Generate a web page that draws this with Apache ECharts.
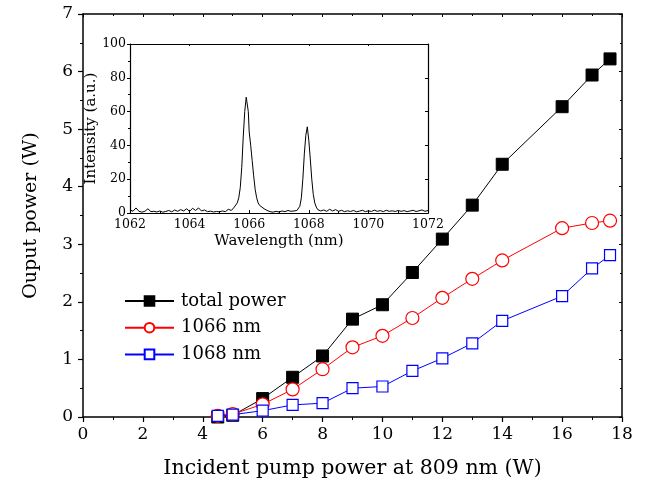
<!DOCTYPE html>
<html>
<head>
<meta charset="utf-8">
<script src="https://cdn.jsdelivr.net/npm/echarts@6/dist/echarts.min.js"></script>
<style>html,body{margin:0;padding:0;background:#fff}#c{width:649px;height:492px}</style>
</head>
<body>
<div id="c"></div>
<script>
// Main chart data
var pump = [4.5, 5, 6, 7, 8, 9, 10, 11, 12, 13, 14, 16, 17, 17.6];
var totalPower = [0, 0.03, 0.32, 0.69, 1.06, 1.70, 1.95, 2.51, 3.09, 3.68, 4.39, 5.39, 5.94, 6.22];
var power1066 = [0.02, 0.05, 0.22, 0.48, 0.83, 1.21, 1.41, 1.72, 2.07, 2.40, 2.72, 3.28, 3.37, 3.41];
var power1068 = [0.02, 0.04, 0.11, 0.21, 0.24, 0.50, 0.53, 0.80, 1.02, 1.28, 1.67, 2.10, 2.58, 2.81];
var seriesNames = ['total power', '1066 nm', '1068 nm'];

// Inset spectrum data
var specWl = [1062.0,1062.1,1062.2,1062.3,1062.4,1062.5,1062.6,1062.7,1062.8,1062.9,
  1063.0,1063.1,1063.2,1063.3,1063.4,1063.5,1063.6,1063.7,1063.8,1063.9,
  1064.0,1064.1,1064.2,1064.3,1064.4,1064.5,1064.6,1064.7,1064.8,1064.9,
  1065.0,1065.1,1065.2,1065.3,1065.4,1065.5,1065.55,1065.6,1065.65,1065.7,1065.75,1065.8,1065.85,1065.9,1065.93,1065.97,
  1066.0,1066.05,1066.1,1066.15,1066.2,1066.25,1066.3,1066.35,1066.4,1066.5,1066.6,1066.7,1066.8,1066.9,
  1067.0,1067.1,1067.2,1067.3,1067.4,1067.5,1067.6,1067.65,1067.7,1067.75,1067.8,1067.85,1067.9,1067.95,1067.98,
  1068.0,1068.05,1068.1,1068.15,1068.2,1068.25,1068.3,1068.4,1068.5,1068.6,1068.7,1068.8,1068.9,
  1069.0,1069.1,1069.2,1069.3,1069.4,1069.5,1069.6,1069.7,1069.8,1069.9,
  1070.0,1070.1,1070.2,1070.3,1070.4,1070.5,1070.6,1070.7,1070.8,1070.9,
  1071.0,1071.1,1071.2,1071.3,1071.4,1071.5,1071.6,1071.7,1071.8,1071.9,1072.0];
var specInt = [2,1,3,1,0.5,1,2.5,0.8,1,0.6,
  1.2,0.5,0.9,1.5,0.7,1.8,1,2,1.2,2.5,
  1,2.8,1.5,3,1.2,1.8,0.8,1.1,0.6,0.9,
  0.7,1.2,0.8,2.2,1.5,3.5,4.5,6,9,15,27,45,60,68.5,68,60,
  48,40,31,22,14,9,6,4.5,3.5,2.5,1.5,0.8,0.5,1,
  0.6,1.2,0.8,1.5,1,1.2,1.5,2.5,4,9,20,35,46,51,50,
  43,32,20,11,6,3.5,2,1.2,1.8,1,2.2,1.2,2,
  1,1.6,0.8,1.3,0.9,1.5,0.7,1.1,1.6,0.8,
  1.3,0.9,1.7,1,1.4,0.8,1.6,1,1.3,0.9,
  1.5,1,1.4,0.8,1.2,1.6,0.9,1.3,1.8,1,1.5];

function pairs(xs, ys) { return xs.map(function (x, i) { return [x, ys[i]]; }); }
function plain(v) { return String(v); }

var FONT = 'DejaVu Serif';
var chart = echarts.init(document.getElementById('c'), null, {renderer: 'canvas'});
var mainLine = {show: true, onZero: false, lineStyle: {color: '#000', width: 1.5}};
var insetLine = {show: true, onZero: false, lineStyle: {color: '#000', width: 1.2}};

chart.setOption({
  animation: false,
  backgroundColor: '#fff',
  textStyle: {fontFamily: FONT, color: '#000'},
  grid: [
    {left: 83, top: 14, width: 539, height: 403},
    {left: 130, top: 44, width: 298, height: 169}
  ],
  legend: {
    orient: 'vertical', left: 124, top: 292, padding: 0, itemWidth: 49, itemHeight: 12, itemGap: 8.7,
    data: seriesNames,
    textStyle: {fontFamily: FONT, fontSize: 18, color: '#000', padding: [0, 0, 0, 2]}
  },
  xAxis: [
    {gridIndex: 0, type: 'value', min: 0, max: 18, interval: 2, position: 'bottom',
     axisLine: mainLine, splitLine: {show: false},
     axisTick: {show: true, inside: false, length: 5, lineStyle: {color: '#000', width: 1.2}},
     minorTick: {show: true, splitNumber: 2, length: 3, lineStyle: {color: '#000', width: 1}},
     axisLabel: {fontFamily: FONT, fontSize: 17, color: '#000', margin: 9},
     name: 'Incident pump power at 809 nm (W)', nameLocation: 'middle', nameGap: 41,
     nameTextStyle: {fontFamily: FONT, fontSize: 20.5, color: '#000'}},
    {gridIndex: 0, type: 'value', min: 0, max: 18, interval: 2, position: 'top',
     axisLine: mainLine, splitLine: {show: false}, axisLabel: {show: false},
     axisTick: {show: true, inside: true, length: 3, lineStyle: {color: '#000'}},
     minorTick: {show: true, splitNumber: 2, length: 2, lineStyle: {color: '#000'}}},
    {gridIndex: 1, type: 'value', min: 1062, max: 1072, interval: 2, position: 'bottom',
     axisLine: insetLine, splitLine: {show: false},
     axisTick: {show: true, inside: true, length: 3, lineStyle: {color: '#000'}},
     minorTick: {show: true, splitNumber: 2, length: 2, lineStyle: {color: '#000'}},
     axisLabel: {fontFamily: FONT, fontSize: 12.5, color: '#000', margin: 5, formatter: plain},
     name: 'Wavelength (nm)', nameLocation: 'middle', nameGap: 21,
     nameTextStyle: {fontFamily: FONT, fontSize: 15, color: '#000'}},
    {gridIndex: 1, type: 'value', min: 1062, max: 1072, interval: 2, position: 'top',
     axisLine: insetLine, splitLine: {show: false}, axisLabel: {show: false},
     axisTick: {show: true, inside: true, length: 2, lineStyle: {color: '#000'}},
     minorTick: {show: false}}
  ],
  yAxis: [
    {gridIndex: 0, type: 'value', min: 0, max: 7, interval: 1, position: 'left',
     axisLine: mainLine, splitLine: {show: false},
     axisTick: {show: true, inside: false, length: 5, lineStyle: {color: '#000', width: 1.2}},
     minorTick: {show: true, splitNumber: 2, length: 3, lineStyle: {color: '#000'}},
     axisLabel: {fontFamily: FONT, fontSize: 17, color: '#000', margin: 10},
     name: 'Ouput power (W)', nameLocation: 'middle', nameGap: 42,
     nameTextStyle: {fontFamily: FONT, fontSize: 19, color: '#000'}},
    {gridIndex: 0, type: 'value', min: 0, max: 7, interval: 1, position: 'right',
     axisLine: mainLine, splitLine: {show: false}, axisLabel: {show: false},
     axisTick: {show: true, inside: true, length: 3, lineStyle: {color: '#000'}},
     minorTick: {show: true, splitNumber: 2, length: 2, lineStyle: {color: '#000'}}},
    {gridIndex: 1, type: 'value', min: 0, max: 100, interval: 20, position: 'left',
     axisLine: insetLine, splitLine: {show: false},
     axisTick: {show: true, inside: false, length: 3, lineStyle: {color: '#000'}},
     minorTick: {show: true, splitNumber: 2, length: 2, lineStyle: {color: '#000'}},
     axisLabel: {fontFamily: FONT, fontSize: 12.5, color: '#000', margin: 4, formatter: plain},
     name: 'Intensity (a.u.)', nameLocation: 'middle', nameGap: 22,
     nameTextStyle: {fontFamily: FONT, fontSize: 15, color: '#000'}},
    {gridIndex: 1, type: 'value', min: 0, max: 100, interval: 20, position: 'right',
     axisLine: insetLine, splitLine: {show: false}, axisLabel: {show: false},
     axisTick: {show: true, inside: true, length: 3, lineStyle: {color: '#000'}},
     minorTick: {show: false}}
  ],
  series: [
    {name: seriesNames[0], type: 'line', xAxisIndex: 0, yAxisIndex: 0, data: pairs(pump, totalPower),
     symbol: 'rect', symbolSize: 12, lineStyle: {color: '#000', width: 1},
     itemStyle: {color: '#000', borderColor: '#000', borderWidth: 1}, z: 3},
    {name: seriesNames[1], type: 'line', xAxisIndex: 0, yAxisIndex: 0, data: pairs(pump, power1066),
     symbol: 'circle', symbolSize: 13, showAllSymbol: true, lineStyle: {color: '#ff0000', width: 1},
     itemStyle: {color: '#fff', borderColor: '#ff0000', borderWidth: 1.2}, z: 4},
    {name: seriesNames[2], type: 'line', xAxisIndex: 0, yAxisIndex: 0, data: pairs(pump, power1068),
     symbol: 'rect', symbolSize: 11, lineStyle: {color: '#0000ff', width: 1},
     itemStyle: {color: '#fff', borderColor: '#0000ff', borderWidth: 1.2}, z: 5},
    {name: 'spectrum', type: 'line', xAxisIndex: 2, yAxisIndex: 2, data: pairs(specWl, specInt),
     showSymbol: false, symbol: 'none', lineStyle: {color: '#000', width: 1}, z: 6}
  ]
});
</script>
</body>
</html>
